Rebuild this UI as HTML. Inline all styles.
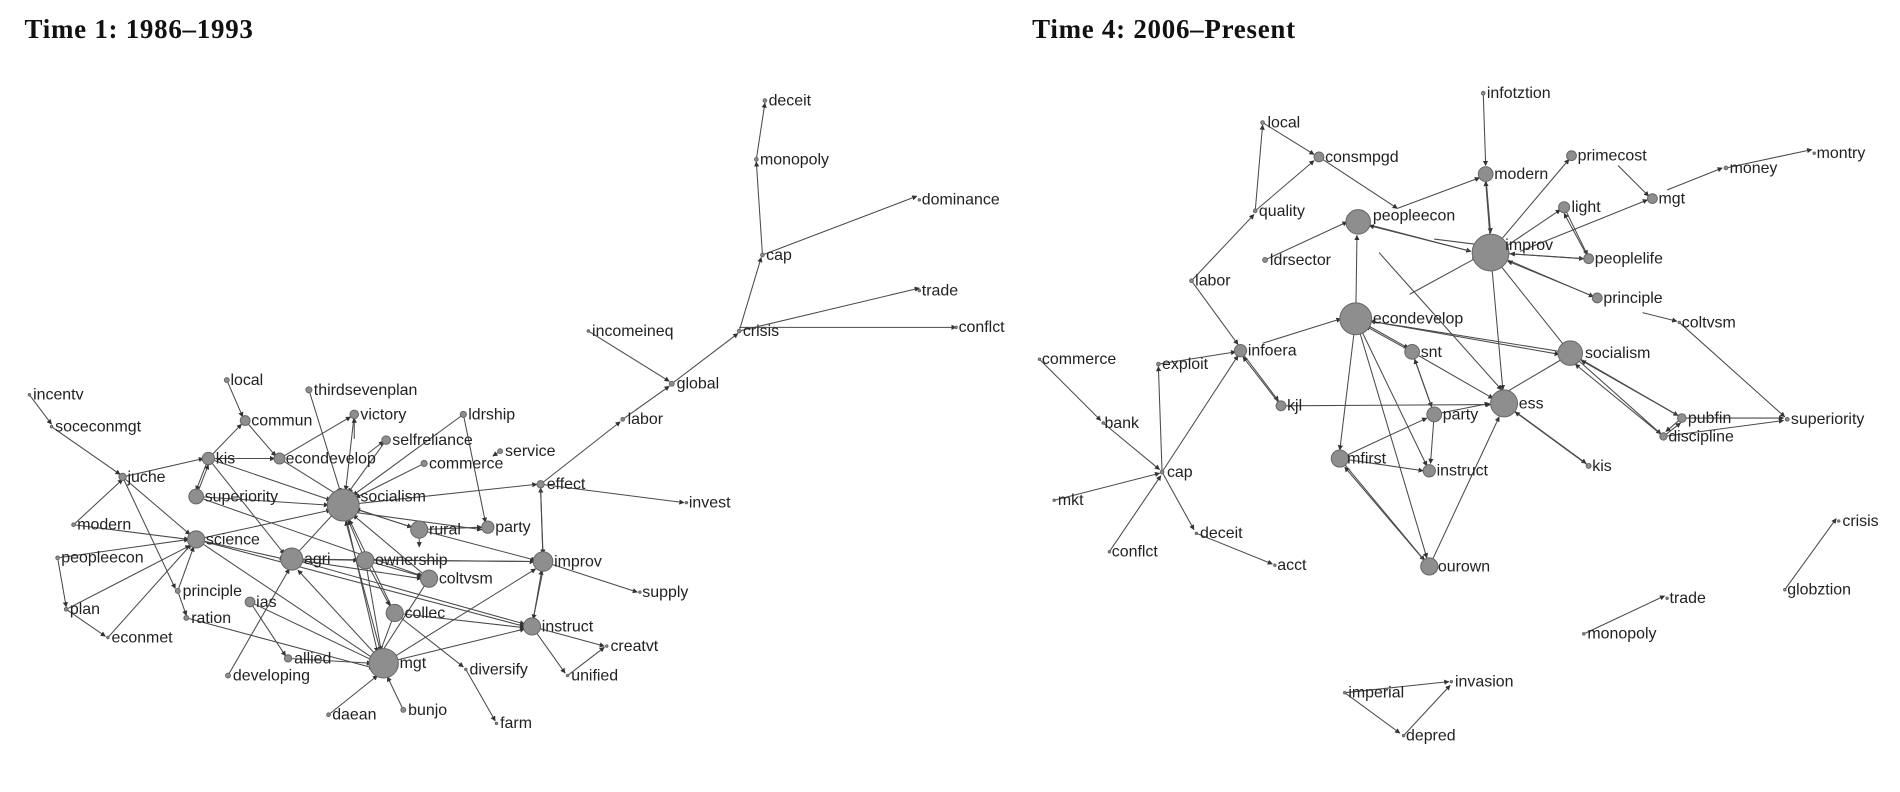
<!DOCTYPE html>
<html><head><meta charset="utf-8"><style>
html,body{margin:0;padding:0;background:#fff;width:1900px;height:792px;overflow:hidden}
svg{display:block}
text{font-family:"Liberation Sans","DejaVu Sans",sans-serif;font-size:13px;fill:#222}
.t{font-family:"Liberation Serif",serif;font-size:22px;font-weight:bold;fill:#111;letter-spacing:0.6px}
path{stroke:#4a4a4a;stroke-width:0.85;fill:none;marker-end:url(#a)}
circle{fill:#8e8e8e;stroke:#666;stroke-width:0.8}
</style></head><body>
<svg width="1900" height="792" viewBox="0 0 1550 646" preserveAspectRatio="none" xmlns="http://www.w3.org/2000/svg">
<defs><marker id="a" viewBox="0 0 10 10" refX="9" refY="5" markerWidth="5" markerHeight="5" orient="auto"><path d="M0,0 L10,5 L0,10 z" style="fill:#333;stroke:none;marker-end:none"/></marker></defs>
<text class="t" x="20" y="31">Time 1: 1986–1993</text>
<text class="t" x="842" y="31">Time 4: 2006–Present</text>
<g>
<path d="M617 130L624 84"/><path d="M622 208L617 132"/><path d="M622 208L748 160"/><path d="M603 270L621 210"/><path d="M603 270L750 235"/><path d="M603 267L780 267"/><path d="M480 270L546 311"/><path d="M548 313L602 272"/><path d="M508 342L546 315"/><path d="M441 395L506 344"/><path d="M441 395L558 410"/><path d="M280 412L438 395"/><path d="M443 458L441 398"/><path d="M441 398L443 452"/><path d="M443 458L520 483"/><path d="M434 511L442 465"/><path d="M443 465L435 505"/><path d="M434 511L493 527"/><path d="M463 551L493 528"/><path d="M434 511L461 549"/>
<path d="M24 322L42 346"/><path d="M42 348L98 387"/><path d="M100 389L155 436"/><path d="M100 389L166 374"/><path d="M100 389L143 480"/><path d="M60 428L154 440"/><path d="M60 428L100 391"/><path d="M47 455L54 495"/><path d="M54 497L86 519"/><path d="M88 520L156 444"/><path d="M54 497L155 445"/><path d="M145 482L152 502"/><path d="M145 482L158 446"/><path d="M47 455L154 440"/>
<path d="M185 310L198 340"/><path d="M170 374L197 346"/><path d="M200 343L225 372"/><path d="M170 374L224 374"/><path d="M170 374L160 400"/><path d="M160 405L170 379"/><path d="M170 374L270 408"/><path d="M170 374L232 452"/><path d="M160 405L268 412"/><path d="M160 405L345 470"/><path d="M228 374L286 340"/><path d="M228 374L276 404"/><path d="M252 318L278 402"/><path d="M289 338L282 400"/><path d="M315 359L284 402"/><path d="M378 338L288 404"/><path d="M378 338L396 426"/><path d="M346 378L290 406"/><path d="M300 370L313 360"/><path d="M289 358L289 341"/><path d="M280 412L336 430"/><path d="M342 432L290 415"/><path d="M342 432L393 430"/><path d="M290 418L393 432"/><path d="M342 432L437 457"/><path d="M238 456L273 418"/><path d="M160 440L232 456"/><path d="M160 440L270 416"/><path d="M160 440L306 538"/><path d="M160 440L428 511"/><path d="M238 456L344 472"/><path d="M238 456L436 458"/><path d="M238 456L292 457"/><path d="M298 457L284 424"/><path d="M298 457L344 470"/><path d="M298 457L436 458"/><path d="M298 457L318 494"/><path d="M322 500L285 424"/><path d="M322 500L310 532"/><path d="M350 472L310 534"/><path d="M350 472L288 420"/><path d="M313 541L282 425"/><path d="M313 541L243 465"/><path d="M313 541L428 513"/><path d="M313 541L437 464"/><path d="M204 491L307 540"/><path d="M204 491L233 535"/><path d="M235 537L303 541"/><path d="M186 551L236 464"/><path d="M152 504L305 545"/><path d="M268 583L308 551"/><path d="M329 579L316 552"/><path d="M322 500L378 544"/><path d="M380 546L404 588"/><path d="M322 500L428 512"/><path d="M238 456L428 509"/><path d="M342 432L342 446"/><path d="M280 412L308 532"/><path d="M298 457L311 531"/><path d="M408 368L402 372"/>
</g>
<g>
<circle cx="624" cy="82" r="1.5"/><circle cx="617" cy="130" r="1.5"/><circle cx="750" cy="163" r="1"/><circle cx="622" cy="208" r="1.5"/><circle cx="750" cy="237" r="1"/><circle cx="603" cy="270" r="1.5"/><circle cx="780" cy="267" r="1"/><circle cx="480" cy="270" r="1"/><circle cx="548" cy="313" r="2"/><circle cx="508" cy="342" r="1.5"/><circle cx="408" cy="368" r="2"/><circle cx="441" cy="395" r="3"/><circle cx="560" cy="410" r="1"/><circle cx="24" cy="322" r="1"/><circle cx="42" cy="348" r="1"/><circle cx="100" cy="389" r="3"/><circle cx="185" cy="310" r="2"/><circle cx="200" cy="343" r="4"/><circle cx="252" cy="318" r="2.5"/><circle cx="289" cy="338" r="3.5"/><circle cx="315" cy="359" r="3.5"/><circle cx="378" cy="338" r="2.5"/><circle cx="346" cy="378" r="2.5"/><circle cx="170" cy="374" r="5"/><circle cx="228" cy="374" r="4.5"/><circle cx="160" cy="405" r="6"/><circle cx="280" cy="412" r="13"/><circle cx="342" cy="432" r="7"/><circle cx="398" cy="430" r="5"/><circle cx="60" cy="428" r="1.5"/><circle cx="160" cy="440" r="7"/><circle cx="238" cy="456" r="9"/><circle cx="298" cy="457" r="7"/><circle cx="350" cy="472" r="7"/><circle cx="443" cy="458" r="8"/><circle cx="47" cy="455" r="1.5"/><circle cx="145" cy="482" r="2"/><circle cx="522" cy="483" r="1"/><circle cx="204" cy="491" r="4"/><circle cx="152" cy="504" r="2"/><circle cx="322" cy="500" r="7"/><circle cx="434" cy="511" r="7"/><circle cx="54" cy="497" r="1.5"/><circle cx="88" cy="520" r="1"/><circle cx="495" cy="527" r="1"/><circle cx="235" cy="537" r="3"/><circle cx="313" cy="541" r="12"/><circle cx="380" cy="546" r="1"/><circle cx="186" cy="551" r="2"/><circle cx="463" cy="551" r="1"/><circle cx="268" cy="583" r="1.5"/><circle cx="329" cy="579" r="2"/><circle cx="405" cy="590" r="1"/>
</g>
<g>
<text x="627" y="86">deceit</text><text x="620" y="134">monopoly</text><text x="752" y="167">dominance</text><text x="625" y="212">cap</text><text x="752" y="241">trade</text><text x="606" y="274">crisis</text><text x="782" y="271">conflct</text><text x="483" y="274">incomeineq</text><text x="552" y="317">global</text><text x="512" y="346">labor</text><text x="412" y="372">service</text><text x="446" y="399">effect</text><text x="562" y="414">invest</text><text x="27" y="326">incentv</text><text x="45" y="352">soceconmgt</text><text x="104" y="393">juche</text><text x="188" y="314">local</text><text x="205" y="347">commun</text><text x="256" y="322">thirdsevenplan</text><text x="294" y="342">victory</text><text x="320" y="363">selfreliance</text><text x="382" y="342">ldrship</text><text x="350" y="382">commerce</text><text x="176" y="378">kis</text><text x="233" y="378">econdevelop</text><text x="167" y="409">superiority</text><text x="294" y="409">socialism</text><text x="350" y="436">rural</text><text x="404" y="434">party</text><text x="63" y="432">modern</text><text x="168" y="444">science</text><text x="248" y="460">agri</text><text x="306" y="461">ownership</text><text x="358" y="476">coltvsm</text><text x="452" y="462">improv</text><text x="50" y="459">peopleecon</text><text x="149" y="486">principle</text><text x="524" y="487">supply</text><text x="209" y="495">ias</text><text x="156" y="508">ration</text><text x="330" y="504">collec</text><text x="442" y="515">instruct</text><text x="57" y="501">plan</text><text x="91" y="524">econmet</text><text x="498" y="531">creatvt</text><text x="240" y="541">allied</text><text x="326" y="545">mgt</text><text x="383" y="550">diversify</text><text x="190" y="555">developing</text><text x="466" y="555">unified</text><text x="271" y="587">daean</text><text x="333" y="583">bunjo</text><text x="408" y="594">farm</text>
</g>
<g>
<path d="M1210 76L1212 135"/><path d="M1030 100L1072 126"/><path d="M1024 172L1030 102"/><path d="M1024 172L1072 131"/><path d="M972 229L1023 175"/><path d="M972 229L1010 281"/><path d="M1076 128L1140 170"/><path d="M1140 170L1207 145"/><path d="M1212 142L1216 190"/><path d="M1216 200L1212 148"/><path d="M1320 135L1345 160"/><path d="M1225 195L1280 130"/><path d="M1230 200L1273 171"/><path d="M1276 169L1295 208"/><path d="M1296 211L1276 174"/><path d="M1240 205L1344 163"/><path d="M1360 155L1405 137"/><path d="M1408 137L1478 122"/><path d="M1032 212L1099 181"/><path d="M1108 181L1200 205"/><path d="M1200 205L1117 184"/><path d="M1216 206L1292 211"/><path d="M1292 211L1232 207"/><path d="M1216 206L1300 242"/><path d="M1303 243L1230 213"/><path d="M1340 255L1368 262"/><path d="M1370 263L1456 340"/><path d="M1106 260L1107 192"/><path d="M1150 240L1205 210"/><path d="M1125 206L1225 318"/><path d="M1170 195L1210 200"/><path d="M1030 280L1094 260"/><path d="M1281 288L1118 262"/><path d="M1118 262L1272 289"/><path d="M1106 260L1149 284"/><path d="M1152 287L1114 266"/><path d="M1106 260L1093 367"/><path d="M1106 260L1164 380"/><path d="M1106 260L1164 455"/><path d="M1216 206L1226 318"/><path d="M1281 288L1222 214"/><path d="M1225 322L1276 292"/><path d="M1281 288L1369 339"/><path d="M1369 339L1290 294"/><path d="M1281 288L1355 354"/><path d="M1357 356L1285 297"/><path d="M1372 341L1359 352"/><path d="M1357 356L1371 345"/><path d="M1372 341L1455 341"/><path d="M1357 356L1455 343"/><path d="M1152 287L1168 332"/><path d="M1170 338L1154 293"/><path d="M1152 287L1218 325"/><path d="M1045 331L1216 330"/><path d="M1012 286L1043 327"/><path d="M1045 331L1014 291"/><path d="M1170 338L1215 329"/><path d="M1093 374L1164 341"/><path d="M1093 374L1161 384"/><path d="M1170 338L1167 378"/><path d="M1227 329L1294 378"/><path d="M1296 380L1236 336"/><path d="M1166 462L1223 340"/><path d="M1093 374L1162 457"/><path d="M1166 462L1097 381"/><path d="M848 293L898 343"/><path d="M900 345L946 383"/><path d="M860 408L946 386"/><path d="M948 385L945 299"/><path d="M945 297L1008 287"/><path d="M948 385L1010 290"/><path d="M905 450L947 388"/><path d="M948 385L974 432"/><path d="M976 435L1038 460"/><path d="M1456 481L1498 423"/><path d="M1292 517L1358 486"/><path d="M1097 565L1182 556"/><path d="M1097 565L1142 598"/><path d="M1145 600L1183 559"/>
</g>
<g>
<circle cx="1210" cy="76" r="1.5"/><circle cx="1030" cy="100" r="1.5"/><circle cx="1480" cy="125" r="1"/><circle cx="1076" cy="128" r="4"/><circle cx="1282" cy="127" r="4"/><circle cx="1408" cy="137" r="1.5"/><circle cx="1212" cy="142" r="6"/><circle cx="1348" cy="162" r="4"/><circle cx="1276" cy="169" r="4.5"/><circle cx="1024" cy="172" r="1.5"/><circle cx="1108" cy="181" r="10"/><circle cx="1216" cy="206" r="15"/><circle cx="1032" cy="212" r="2"/><circle cx="1296" cy="211" r="4"/><circle cx="972" cy="229" r="1.5"/><circle cx="1303" cy="243" r="4"/><circle cx="1106" cy="260" r="13"/><circle cx="1370" cy="263" r="1"/><circle cx="1152" cy="287" r="6"/><circle cx="1281" cy="288" r="10"/><circle cx="1012" cy="286" r="5"/><circle cx="848" cy="293" r="1"/><circle cx="945" cy="297" r="1.5"/><circle cx="1372" cy="341" r="3.5"/><circle cx="1045" cy="331" r="4"/><circle cx="1227" cy="329" r="11"/><circle cx="1170" cy="338" r="6"/><circle cx="1458" cy="342" r="1.5"/><circle cx="1357" cy="356" r="3"/><circle cx="1093" cy="374" r="7"/><circle cx="1296" cy="380" r="2"/><circle cx="1166" cy="384" r="5"/><circle cx="948" cy="385" r="1.5"/><circle cx="900" cy="345" r="1"/><circle cx="860" cy="408" r="1"/><circle cx="976" cy="435" r="1"/><circle cx="1500" cy="425" r="1"/><circle cx="905" cy="450" r="1"/><circle cx="1040" cy="461" r="1"/><circle cx="1166" cy="462" r="7"/><circle cx="1456" cy="481" r="1"/><circle cx="1360" cy="488" r="1"/><circle cx="1292" cy="517" r="1"/><circle cx="1184" cy="556" r="1"/><circle cx="1097" cy="565" r="1"/><circle cx="1145" cy="600" r="1"/>
</g>
<g>
<text x="1213" y="80">infotztion</text><text x="1034" y="104">local</text><text x="1482" y="129">montry</text><text x="1081" y="132">consmpgd</text><text x="1287" y="131">primecost</text><text x="1411" y="141">money</text><text x="1219" y="146">modern</text><text x="1353" y="166">mgt</text><text x="1282" y="173">light</text><text x="1027" y="176">quality</text><text x="1120" y="180">peopleecon</text><text x="1228" y="204">improv</text><text x="1036" y="216">ldrsector</text><text x="1301" y="215">peoplelife</text><text x="975" y="233">labor</text><text x="1308" y="247">principle</text><text x="1120" y="264">econdevelop</text><text x="1372" y="267">coltvsm</text><text x="1159" y="291">snt</text><text x="1293" y="292">socialism</text><text x="1018" y="290">infoera</text><text x="850" y="297">commerce</text><text x="948" y="301">exploit</text><text x="1377" y="345">pubfin</text><text x="1050" y="335">kjl</text><text x="1239" y="333">ess</text><text x="1177" y="342">party</text><text x="1461" y="346">superiority</text><text x="1361" y="360">discipline</text><text x="1099" y="378">mfirst</text><text x="1299" y="384">kis</text><text x="1172" y="388">instruct</text><text x="952" y="389">cap</text><text x="901" y="349">bank</text><text x="863" y="412">mkt</text><text x="979" y="439">deceit</text><text x="1503" y="429">crisis</text><text x="907" y="454">conflct</text><text x="1042" y="465">acct</text><text x="1173" y="466">ourown</text><text x="1458" y="485">globztion</text><text x="1362" y="492">trade</text><text x="1295" y="521">monopoly</text><text x="1187" y="560">invasion</text><text x="1100" y="569">imperial</text><text x="1147" y="604">depred</text>
</g>
</svg>
</body></html>
